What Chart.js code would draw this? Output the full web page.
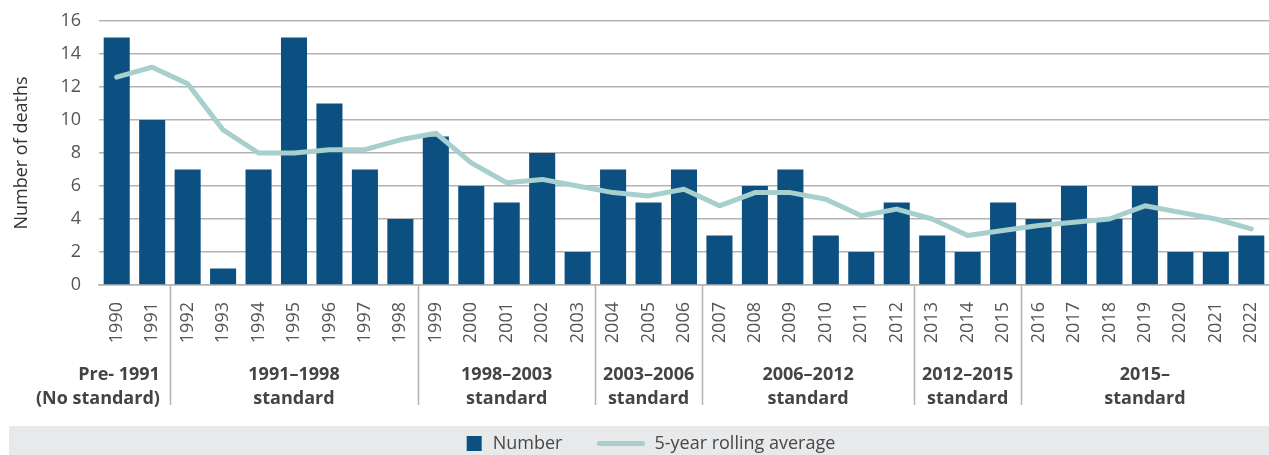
<!DOCTYPE html>
<html>
<head>
<meta charset="utf-8">
<title>Number of deaths, 1990–2022</title>
<script src="https://cdn.jsdelivr.net/npm/chart.js@4.4.1/dist/chart.umd.min.js"></script>
<style>
  html, body { margin: 0; padding: 0; background: #ffffff; }
  #wrap { position: relative; width: 1269px; height: 455px; }
</style>
</head>
<body>
<div id="wrap"><canvas id="chart" width="1269" height="455"></canvas></div>
<script>
// Years shown on the category axis
const years = ['1990','1991','1992','1993','1994','1995','1996','1997','1998','1999',
  '2000','2001','2002','2003','2004','2005','2006','2007','2008','2009','2010',
  '2011','2012','2013','2014','2015','2016','2017','2018','2019','2020','2021','2022'];

// Deaths per year
const deaths = [15, 10, 7, 1, 7, 15, 11, 7, 4, 9, 6, 5, 8, 2, 7, 5, 7, 3, 6, 7, 3,
  2, 5, 3, 2, 5, 4, 6, 4, 6, 2, 2, 3];

// 5-year rolling average
const rollingAvg = [12.6, 13.2, 12.2, 9.4, 8.0, 8.0, 8.2, 8.2, 8.8, 9.2, 7.4, 6.2,
  6.4, 6.0, 5.6, 5.4, 5.8, 4.8, 5.6, 5.6, 5.2, 4.2, 4.6, 4.0, 3.0, 3.3, 3.6, 3.8,
  4.0, 4.8, 4.4, 4.0, 3.4];

// Standard periods: heading lines, first and last year covered
const periodNames = [
  ['Pre- 1991', '(No standard)'],
  ['1991–1998', 'standard'],
  ['1998–2003', 'standard'],
  ['2003–2006', 'standard'],
  ['2006–2012', 'standard'],
  ['2012–2015', 'standard'],
  ['2015–', 'standard']
];
const periodFirstYear = ['1990', '1992', '1999', '2004', '2007', '2013', '2016'];
const periodLastYear  = ['1991', '1998', '2003', '2006', '2012', '2015', '2022'];

// Y axis ticks
const yTicks = [0, 2, 4, 6, 8, 10, 12, 14, 16];

const FONT = "'Open Sans', 'Noto Sans', sans-serif";
const BAR_COLOR = '#0b5080';
const LINE_COLOR = '#a6cfcd';
const GRID_COLOR = '#b3b3b3';

// Period headings and separators under the year labels
const periodPlugin = {
  id: 'periods',
  afterDraw(chart) {
    const ctx = chart.ctx;
    const x = chart.scales.x;
    const area = chart.chartArea;
    const half = (x.getPixelForValue(1) - x.getPixelForValue(0)) / 2;
    ctx.save();
    ctx.strokeStyle = GRID_COLOR;
    ctx.lineWidth = 1.5;
    ctx.font = "bold 18px " + FONT;
    ctx.fillStyle = '#444444';
    ctx.textBaseline = 'middle';
    periodNames.forEach((lines, i) => {
      const a = years.indexOf(periodFirstYear[i]);
      const b = years.indexOf(periodLastYear[i]);
      const left = x.getPixelForValue(a) - half;
      const right = Math.min(x.getPixelForValue(b) + half, area.right);
      if (i > 0) {
        ctx.beginPath();
        ctx.moveTo(Math.round(left) + 0.5, area.bottom);
        ctx.lineTo(Math.round(left) + 0.5, area.bottom + 120);
        ctx.stroke();
      }
      const alignRight = i === 0;
      ctx.textAlign = alignRight ? 'right' : 'center';
      const tx = alignRight ? right - 10 : (left + right) / 2;
      lines.forEach((t, j) => {
        ctx.fillText(t, tx, area.bottom + 90 + j * 24);
      });
    });
    ctx.restore();
  }
};

// Legend strip along the bottom edge
const legendPlugin = {
  id: 'legendStrip',
  afterDraw(chart) {
    const ctx = chart.ctx;
    const W = chart.width, H = chart.height;
    const top = 426;
    ctx.save();
    ctx.fillStyle = '#e8e9eb';
    ctx.fillRect(9, top, W - 9, H - top);
    ctx.font = "18px " + FONT;
    ctx.textBaseline = 'middle';
    const ds = chart.data.datasets;
    const barDs = ds.find(d => d.type === 'bar');
    const lineDs = ds.find(d => d.type === 'line');
    const cy = 443.5;
    const sq = 15, lineLen = 47, gap = 11;
    const w1 = sq + gap + ctx.measureText(barDs.label).width;
    const w2 = lineLen + gap + ctx.measureText(lineDs.label).width;
    const total = w1 + 35 + w2;
    let x = 651.5 - total / 2;
    ctx.fillStyle = barDs.backgroundColor;
    ctx.fillRect(x, cy - 7.5, sq, sq);
    ctx.fillStyle = '#474747';
    ctx.textAlign = 'left';
    ctx.fillText(barDs.label, x + sq + gap, cy);
    x += w1 + 35;
    ctx.strokeStyle = lineDs.borderColor;
    ctx.lineWidth = 5;
    ctx.lineCap = 'round';
    ctx.beginPath();
    ctx.moveTo(x + 2, cy);
    ctx.lineTo(x + lineLen - 2, cy);
    ctx.stroke();
    ctx.fillText(lineDs.label, x + lineLen + 10, cy);
    ctx.restore();
  }
};

new Chart(document.getElementById('chart'), {
  data: {
    labels: years,
    datasets: [
      {
        type: 'line',
        label: '5-year rolling average',
        data: rollingAvg,
        borderColor: LINE_COLOR,
        backgroundColor: LINE_COLOR,
        borderWidth: 5,
        borderCapStyle: 'round',
        borderJoinStyle: 'round',
        pointRadius: 0,
        tension: 0,
        order: 0
      },
      {
        type: 'bar',
        label: 'Number',
        data: deaths,
        backgroundColor: BAR_COLOR,
        barPercentage: 0.735,
        categoryPercentage: 1.0,
        order: 1
      }
    ]
  },
  options: {
    responsive: false,
    animation: false,
    layout: { padding: { top: 21, right: 0, bottom: 30, left: 0 } },
    plugins: {
      legend: { display: false },
      tooltip: { enabled: false }
    },
    scales: {
      x: {
        grid: { display: false, drawTicks: false },
        border: { display: true, color: GRID_COLOR, width: 1.5 },
        ticks: {
          minRotation: 90, maxRotation: 90, autoSkip: false,
          padding: 17,
          color: '#555555',
          font: { family: FONT, size: 18 }
        },
        afterFit(scale) {
          scale.height = 140;
          scale.paddingLeft = 0;
          scale.paddingRight = 0;
        }
      },
      y: {
        min: 0, max: 16,
        grid: { color: GRID_COLOR, lineWidth: 1.5, drawTicks: false },
        border: { display: false },
        afterBuildTicks(scale) { scale.ticks = yTicks.map(v => ({ value: v })); },
        ticks: {
          padding: 18,
          color: '#555555',
          font: { family: FONT, size: 18 }
        },
        title: {
          display: true,
          text: 'Number of deaths',
          color: '#333333',
          font: { family: FONT, size: 18 },
          padding: { top: 11, bottom: 0 }
        },
        afterFit(scale) {
          scale.width = 99;
          scale.paddingTop = 0;
          scale.paddingBottom = 0;
        }
      }
    }
  },
  plugins: [periodPlugin, legendPlugin]
});
</script>
</body>
</html>
